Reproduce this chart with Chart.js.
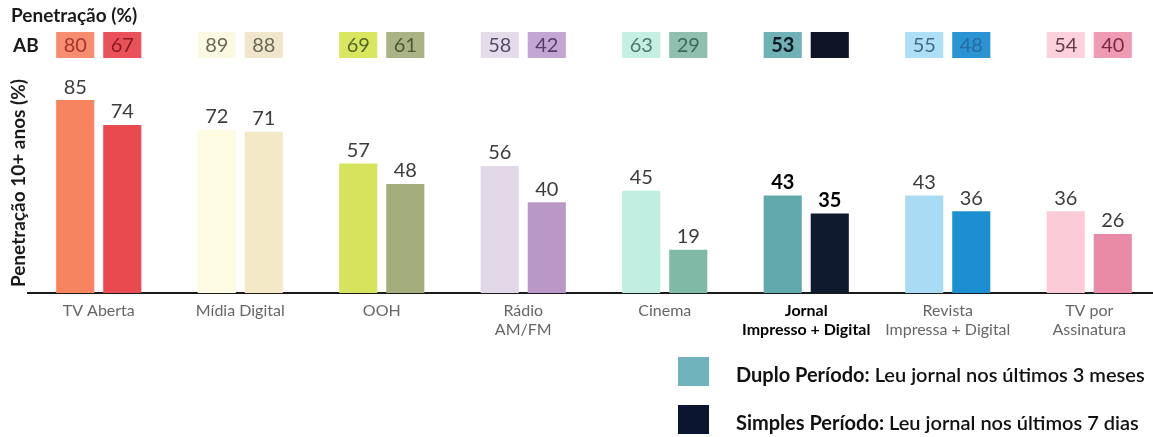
<!DOCTYPE html>
<html>
<head>
<meta charset="utf-8">
<script src="https://cdn.jsdelivr.net/npm/chart.js@4.4.1/dist/chart.umd.min.js"></script>
<style>
  html, body { margin: 0; padding: 0; background: #fff; overflow: hidden; }
  #wrap { width: 1153px; height: 437px; overflow: hidden; }
</style>
</head>
<body>
<div id="wrap"><canvas id="chart" width="1160" height="437"></canvas></div>
<script>
// categories and values
var categories = [
    'TV Aberta',
    'Mídia Digital',
    'OOH',
    ['Rádio', 'AM/FM'],
    'Cinema',
    ['Jornal', 'Impresso + Digital'],
    ['Revista', 'Impressa + Digital'],
    ['TV por', 'Assinatura']
];
var duploValues   = [85, 72, 57, 56, 45, 43, 43, 36];
var simplesValues = [74, 71, 48, 40, 19, 35, 36, 26];
// AB penetration row (second Jornal box is unreadable in the source)
var abDuplo   = [80, 89, 69, 58, 63, 53, 55, 54];
var abSimples = [67, 88, 61, 42, 29, null, 48, 40];
var highlightIndex = 5;

var duploColors   = ['#f6845f', '#fdfbe2', '#d6e35c', '#e2d8e8', '#c0eee0', '#62a9ae', '#a9dcf4', '#fbcbd7'];
var simplesColors = ['#e84a50', '#f3e9c6', '#a4ae7c', '#b998c8', '#80b9a5', '#0e1a2d', '#1b8fd0', '#e98ba6'];
var abDuploBox    = ['#f68d70', '#fcf9e2', '#d9e660', '#e4dcea', '#c6efe3', '#70b1b6', '#aee0f5', '#fbd1dc'];
var abSimplesBox  = ['#e9525b', '#efe6cb', '#aab385', '#c3a6d2', '#8fbfae', '#0d1526', '#2a93d1', '#ef9bb4'];
var abDuploText   = ['#a8332e', '#6b6a55', '#55652a', '#554a6a', '#4a7a6a', '#0a1a22', '#46698a', '#6a3a4a'];
var abSimplesText = ['#8a1a22', '#6b6a55', '#4a5a30', '#5a3a6a', '#3a6a5a', '#0d1526', '#2a6aa0', '#7a2a44'];

var fontFam = 'Lato, "Open Sans", sans-serif';

var extras = {
    id: 'extras',
    afterDatasetsDraw: function(chart) {
        var ctx = chart.ctx;
        var m0 = chart.getDatasetMeta(0).data;
        var m1 = chart.getDatasetMeta(1).data;
        ctx.save();

        // value labels above bars
        ctx.textAlign = 'center';
        ctx.textBaseline = 'bottom';
        [m0, m1].forEach(function(bars, d) {
            var vals = d === 0 ? duploValues : simplesValues;
            bars.forEach(function(bar, i) {
                var hi = i === highlightIndex;
                ctx.font = (hi ? 'bold ' : '') + '20px ' + fontFam;
                ctx.fillStyle = hi ? '#000' : '#3c3c3c';
                ctx.fillText(vals[i], bar.x, bar.y - 3);
            });
        });

        // title and AB row
        ctx.textAlign = 'left';
        ctx.textBaseline = 'middle';
        ctx.fillStyle = '#1a1a1a';
        ctx.font = 'bold 19px ' + fontFam;
        ctx.fillText('Penetração (%)', 11, 16);
        ctx.fillText('AB', 13, 46);

        ctx.textAlign = 'center';
        [m0, m1].forEach(function(bars, d) {
            var vals = d === 0 ? abDuplo : abSimples;
            var box = d === 0 ? abDuploBox : abSimplesBox;
            var txt = d === 0 ? abDuploText : abSimplesText;
            bars.forEach(function(bar, i) {
                var w = bar.width;
                ctx.fillStyle = box[i];
                ctx.fillRect(bar.x - w / 2, 32, w, 26);
                if (vals[i] !== null) {
                    ctx.fillStyle = txt[i];
                    ctx.font = (i === highlightIndex ? 'bold ' : '') + '20px ' + fontFam;
                    ctx.fillText(vals[i], bar.x, 46);
                }
            });
        });

        // y axis title
        ctx.save();
        ctx.translate(19, chart.chartArea.top + 117);
        ctx.rotate(-Math.PI / 2);
        ctx.font = 'bold 19px ' + fontFam;
        ctx.fillStyle = '#1a1a1a';
        ctx.fillText('Penetração 10+ anos (%)', 0, 0);
        ctx.restore();

        // legend
        var items = [
            ['Duplo Período:', ' Leu jornal nos últimos 3 meses', '#70b3bc', 376],
            ['Simples Período:', ' Leu jornal nos últimos 7 dias', '#0c1530', 424]
        ];
        ctx.textAlign = 'left';
        items.forEach(function(it) {
            ctx.fillStyle = it[2];
            ctx.fillRect(678, it[3] - 19, 31, 29);
            ctx.fillStyle = '#111';
            ctx.font = 'bold 20px ' + fontFam;
            ctx.fillText(it[0], 736, it[3]);
            var w = ctx.measureText(it[0]).width;
            ctx.font = '600 20px ' + fontFam;
            ctx.fillText(it[1], 736 + w, it[3]);
        });
        ctx.restore();
    }
};

new Chart(document.getElementById('chart').getContext('2d'), {
    type: 'bar',
    data: {
        labels: categories,
        datasets: [{
            label: 'Duplo Período',
            data: duploValues,
            backgroundColor: duploColors
        }, {
            label: 'Simples Período',
            data: simplesValues,
            backgroundColor: simplesColors
        }]
    },
    options: {
        responsive: false,
        animation: false,
        events: [],
        categoryPercentage: 0.665,
        barPercentage: 0.81,
        layout: { padding: { left: 28, right: 0, top: 66, bottom: 0 } },
        plugins: {
            legend: { display: false },
            tooltip: { enabled: false }
        },
        scales: {
            x: {
                grid: { display: false },
                border: { display: true, color: '#1a1a1a', width: 2 },
                ticks: {
                    padding: 1,
                    maxRotation: 0,
                    autoSkip: false,
                    color: function(c) { return c.index === highlightIndex ? '#000' : '#666'; },
                    font: function(c) {
                        return {
                            family: fontFam,
                            size: 16,
                            weight: c.index === highlightIndex ? 'bold' : 'normal',
                            lineHeight: 1.15
                        };
                    }
                },
                afterFit: function(scale) { scale.height = 144; }
            },
            y: {
                display: false,
                min: 0,
                max: 100
            }
        }
    },
    plugins: [extras]
});
</script>
</body>
</html>
